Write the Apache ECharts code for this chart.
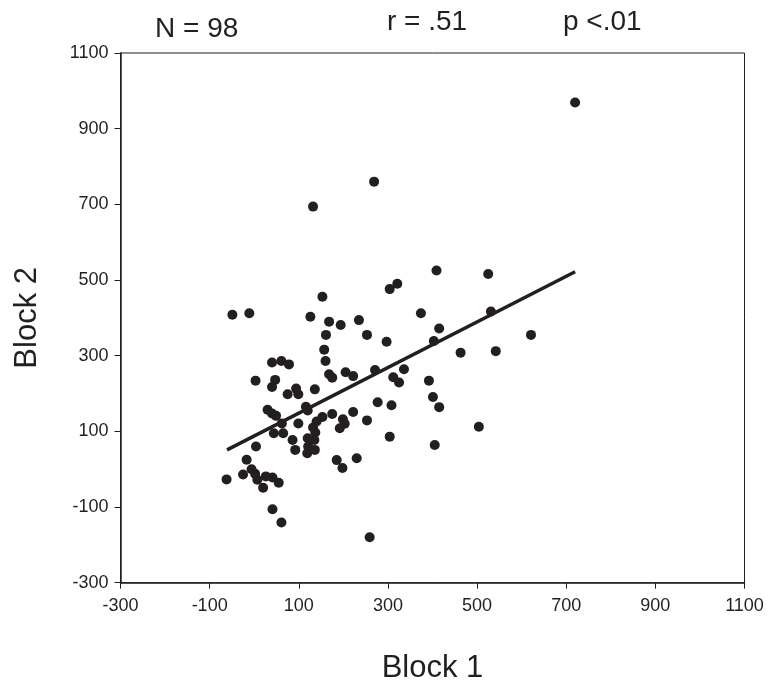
<!DOCTYPE html>
<html>
<head>
<meta charset="utf-8">
<script src="https://cdn.jsdelivr.net/npm/echarts@6/dist/echarts.min.js"></script>
<style>
 html, body { margin: 0; padding: 0; background: #fff; }
 #graph { width: 770px; height: 692px; }
</style>
</head>
<body>
<div id="graph"></div>
<script>
 var block1 = [
  720, 269, 132, 409, 525, 321, 304, 153, -49, -11,
  126, 168, 194, 235, 374, 531, 161, 253, 297, 415,
  403, 621, 157, 463, 542, 160, 40, 61, 78, 168,
  175, 205, 222, 271, 312, 325, 336, 392, 3, 47,
  40, 75, 94, 99, 136, 401, 415, 277, 308, 30,
  40, 49, 116, 120, 153, 140, 175, 199, 203, 192,
  222, 253, 304, 504, 405, 62, 99, 132, 137, 44,
  65, 86, 120, 135, 92, 119, 136, 121, 4, 185,
  198, 230, -17, -62, -25, -6, 2, 7, 20, 26,
  41, 55, 41, 61, 259
 ];
 var block2 = [
  969, 760, 694, 525, 516, 490, 476, 456, 408, 412,
  403, 390, 381, 394, 412, 417, 355, 355, 337, 372,
  339, 355, 316, 308, 312, 286, 282, 286, 277, 251,
  242, 256, 246, 262, 243, 229, 264, 234, 234, 236,
  217, 198, 213, 198, 211, 191, 164, 177, 169, 157,
  147, 141, 165, 155, 138, 126, 146, 132, 120, 108,
  151, 129, 86, 112, 64, 121, 121, 110, 97, 95,
  95, 77, 82, 77, 51, 42, 51, 60, 60, 24,
  3, 29, 25, -27, -14, 0, -12, -28, -49, -19,
  -22, -36, -106, -141, -180
 ];
 var trendX = [-61, 720];
 var trendY = [51, 522];
 var tickMin = -300, tickMax = 1100, tickStep = 200;
 var stats = ["N = 98", "r = .51", "p <.01"];

 var ink = "#231f20";
 var font = "Liberation Sans, Arial, sans-serif";

 var points = [];
 for (var i = 0; i < block1.length; i++) {
  points.push([block1[i], block2[i]]);
 }
 var trend = [];
 for (var j = 0; j < trendX.length; j++) {
  trend.push([trendX[j], trendY[j]]);
 }

 var axisBase = {
  type: "value",
  min: tickMin,
  max: tickMax,
  interval: tickStep,
  nameLocation: "middle",
  nameTextStyle: { color: ink, fontSize: 31, fontFamily: font },
  axisLine: { show: true, onZero: false, lineStyle: { color: ink, width: 1.5 } },
  axisTick: { show: true, inside: false, length: 6, lineStyle: { color: ink, width: 1 } },
  axisLabel: {
   color: ink,
   fontSize: 18,
   fontFamily: font,
   formatter: function(v) { return String(v); }
  },
  splitLine: { show: false }
 };

 var myChart = echarts.init(document.getElementById("graph"), null, { renderer: "canvas" });
 var option = {
  animation: false,
  backgroundColor: "#fff",
  title: [
   { text: stats[0], left: 150, top: 10, textStyle: { color: ink, fontSize: 28, fontWeight: "normal", fontFamily: font } },
   { text: stats[1], left: 382, top: 3, textStyle: { color: ink, fontSize: 28, fontWeight: "normal", fontFamily: font } },
   { text: stats[2], left: 558, top: 3, textStyle: { color: ink, fontSize: 28, fontWeight: "normal", fontFamily: font } }
  ],
  grid: {
   left: 120.5,
   right: 25.5,
   top: 53,
   bottom: 109.3,
   containLabel: false,
   outerBoundsMode: "none",
   show: true,
   borderColor: ink,
   borderWidth: 1
  },
  xAxis: Object.assign({}, axisBase, {
   name: "Block 1",
   nameGap: 70,
   axisLabel: Object.assign({}, axisBase.axisLabel, { margin: 14 })
  }),
  yAxis: Object.assign({}, axisBase, {
   name: "Block 2",
   nameGap: 78,
   axisLabel: Object.assign({}, axisBase.axisLabel, { margin: 12 })
  }),
  series: [
   {
    name: "Blocks",
    type: "scatter",
    data: points,
    symbol: "circle",
    symbolSize: 10,
    itemStyle: { color: ink, opacity: 1 }
   },
   {
    name: "Trend",
    type: "line",
    data: trend,
    symbol: "none",
    lineStyle: { color: ink, width: 3.5 },
    z: 3
   }
  ]
 };
 if (option && typeof option === "object") {
  myChart.setOption(option, true);
 }
</script>
</body>
</html>
